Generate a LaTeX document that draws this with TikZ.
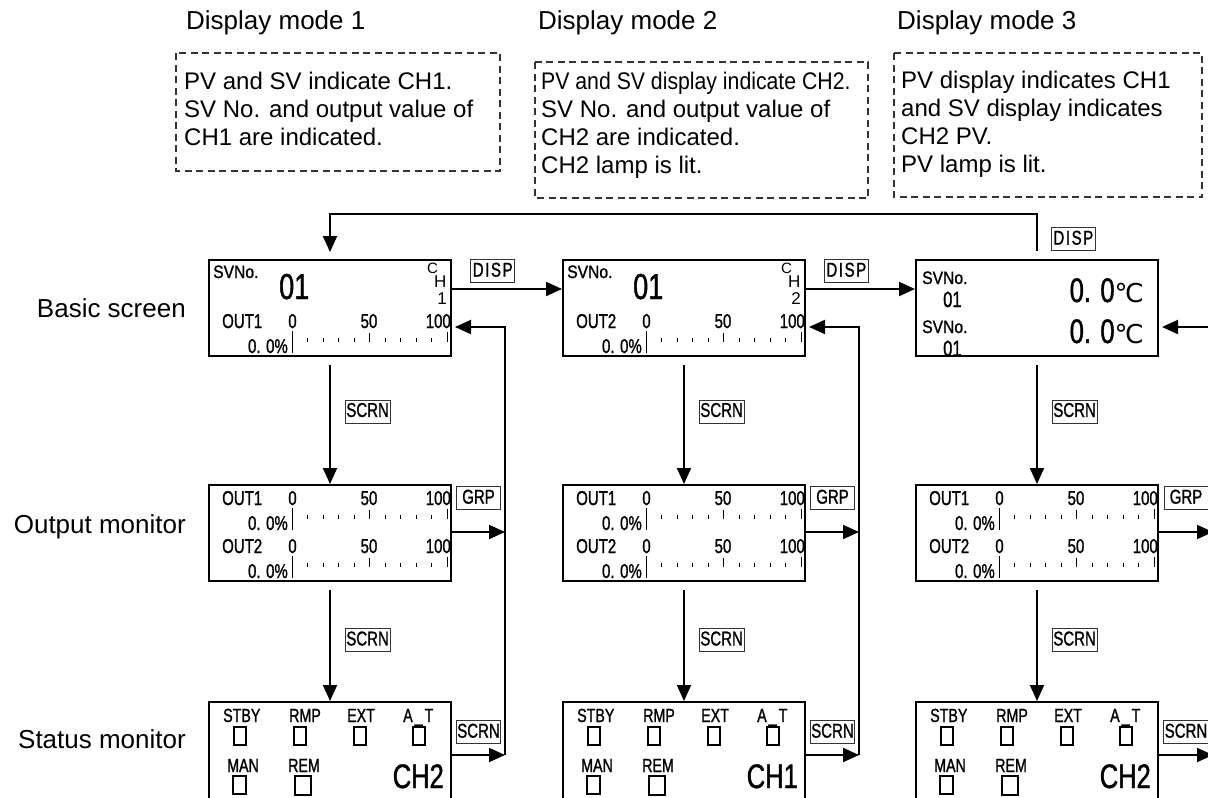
\documentclass[tikz,border=0pt]{standalone}
\usepackage{fontspec}
\usepackage{graphicx}
\setmainfont{Liberation Sans}
\newfontfamily\lcdfont[FakeStretch=0.75,FakeBold=1.2]{Liberation Sans}
\newfontfamily\lcdwide[FakeStretch=0.87,FakeBold=1.2]{Liberation Sans}
\newfontfamily\symfont{DejaVu Sans}
\usetikzlibrary{arrows.meta,positioning}

\begin{document}
\begin{tikzpicture}[x=1pt, y=-1pt,
  screen/.style={draw, line width=2pt, minimum width=242pt,
                 minimum height=96pt, inner sep=0pt},
  flow/.style={line width=2pt, -{Triangle[length=16pt,width=14pt]}},
  keylbl/.style={draw=black!80, line width=0.7pt, inner xsep=1pt,
                 inner ysep=3pt, minimum width=44pt, text height=14pt,
                 text depth=3pt, font=\lcdfont\fontsize{20}{20}\selectfont},
  lcd/.style={inner sep=0pt, font=\lcdfont\fontsize{20}{20}\selectfont},
  note/.style={draw=black!80, line width=1.3pt, dash pattern=on 7pt off 4.5pt},
  tick/.style={line width=1pt},
  lamp/.style={line width=1.2pt}]

\useasboundingbox (0,0) rectangle (1208,798);
\clip (0,0) rectangle (1208,798);

% ---- (1) display mode titles + dashed notes ---------------------
\node[anchor=base west, inner sep=0pt, font=\fontsize{26}{26}\selectfont]
      (title1) at (186,29) {Display mode 1};
\node[anchor=base west, inner sep=0pt, font=\fontsize{26}{26}\selectfont]
      (title2) at (538,29) {Display mode 2};
\node[anchor=base west, inner sep=0pt, font=\fontsize{26}{26}\selectfont]
      (title3) at (897,29) {Display mode 3};

\draw[note] (176,53) rectangle (500,171);
\draw[note] (535,62) rectangle (868,198);
\draw[note] (894,53) rectangle (1202,197);

\node[anchor=north west, align=left, inner sep=0pt,
      font=\fontsize{24}{28}\selectfont] (text1) at (184,72)
      {PV and SV indicate CH1.\\SV No. and output value of\\CH1 are indicated.};
\node[anchor=north west, align=left, inner sep=0pt,
      font=\fontsize{24}{28}\selectfont] (text2) at (541,72)
      {\scalebox{0.885}[1]{PV and SV display indicate CH2.}\\SV No. and output value of\\CH2 are indicated.\\CH2 lamp is lit.};
\node[anchor=north west, align=left, inner sep=0pt,
      font=\fontsize{24}{28}\selectfont] (text3) at (901,71)
      {PV display indicates CH1\\and SV display indicates\\CH2 PV.\\PV lamp is lit.};

% ---- (2) row labels ---------------------------------------------
\node[anchor=base east, inner sep=0pt, font=\fontsize{26}{26}\selectfont]
      (rowbas) at (186,317) {Basic screen};
\node[anchor=base east, inner sep=0pt, font=\fontsize{26}{26}\selectfont]
      (rowout) at (186,533) {Output monitor};
\node[anchor=base east, inner sep=0pt, font=\fontsize{26}{26}\selectfont]
      (rowsta) at (186,748) {Status monitor};

% ---- (3) screen frames ------------------------------------------
\foreach \cx/\col in {330/1,684/2,1037/3}{
  \node[screen] (bas\col) at (\cx,308) {};
  \node[screen] (out\col) at (\cx,533) {};
  \node[screen, minimum height=110pt, anchor=north] (sta\col) at (\cx,701) {};
}

% ---- (4) basic screens of mode 1 and 2 --------------------------
\foreach \cx/\col in {0/1,354/2}{
  \begin{scope}[shift={(\cx,0)}]
    \node[lcd, anchor=base west, font=\lcdwide\fontsize{18}{18}\selectfont]
          (svno\col) at (213,278) {SVNo.};
    \node[lcd, anchor=base west, font=\lcdfont\fontsize{36}{36}\selectfont]
          (svn\col) at (279,299) {01};
    \node[anchor=base west, inner sep=0pt, font=\fontsize{15}{15}\selectfont]
          (chc\col) at (427,273) {C};
    \node[anchor=base west, inner sep=0pt, font=\fontsize{17}{17}\selectfont]
          (chh\col) at (434,287) {H};
    \node[anchor=base east, inner sep=0pt, font=\fontsize{17}{17}\selectfont]
          (chn\col) at (447,304) {\col};
  \end{scope}
}

% ---- (5) bar graph rows (0 ... 100) -----------------------------
\foreach \cx/\B/\lab/\row in {0/328/OUT1/a1, 354/328/OUT2/a2,
    0/505/OUT1/b1, 0/553/OUT2/c1, 354/505/OUT1/b2, 354/553/OUT2/c2,
    707/505/OUT1/b3, 707/553/OUT2/c3}{
  \begin{scope}[shift={(\cx,0)}]
    \node[lcd, anchor=base west] (lab\row) at (222,\B) {\lab};
    \node[lcd, anchor=base] (zero\row) at (292.5,\B) {0};
    \node[lcd, anchor=base] (half\row) at (369,\B) {50};
    \node[lcd, anchor=base east] (full\row) at (451,\B) {100};
    \node[lcd, anchor=base east] (val\row) at (288,{\B+25}) {0. 0\%};
    \draw[tick] (292,{\B+3}) -- (292,{\B+25});
    \foreach \i in {1,...,9}{
      \draw[tick] ({292+15.5*\i},{\B+10}) -- ({292+15.5*\i},{\B+14});
    }
    \draw[tick] (369.5,{\B+5}) -- (369.5,{\B+12});
    \draw[tick] (447,{\B+4}) -- (447,{\B+14});
  \end{scope}
}

% ---- (6) basic screen of mode 3 ---------------------------------
\node[lcd, anchor=base west, font=\lcdwide\fontsize{18}{18}\selectfont]
      (svno3a) at (922,284) {SVNo.};
\node[lcd, anchor=base west, font=\lcdfont\fontsize{22}{22}\selectfont]
      (svn3a) at (943,307) {01};
\node[lcd, anchor=base west, font=\lcdwide\fontsize{18}{18}\selectfont]
      (svno3b) at (922,333) {SVNo.};
\node[lcd, anchor=base west, font=\lcdfont\fontsize{22}{22}\selectfont]
      (svn3b) at (943,356) {01};
\node[lcd, anchor=base east, font=\lcdfont\fontsize{34}{34}\selectfont]
      (pv3) at (1144,302) {0. 0{\symfont\fontsize{26}{26}\selectfont ℃}};
\node[lcd, anchor=base east, font=\lcdfont\fontsize{34}{34}\selectfont]
      (sv3) at (1144,343) {0. 0{\symfont\fontsize{26}{26}\selectfont ℃}};

% ---- (7) status monitors (lamps) --------------------------------
\foreach \cx/\col/\ch in {0/1/CH2,354/2/CH1,707/3/CH2}{
  \begin{scope}[shift={(\cx,0)}]
    \foreach \x/\lab/\n in {223/STBY/a,289/RMP/b,347/EXT/c,
                            403/{A\kern2pt\_\kern2pt T}/d}{
      \node[lcd, anchor=base west, font=\lcdfont\fontsize{19}{19}\selectfont]
            (st\col\n) at (\x,722) {\lab};
    }
    \foreach \x in {234,294,354,413}{
      \draw[lamp] (\x,727) rectangle ++(12,18);
    }
    \node[lcd, anchor=base west, font=\lcdfont\fontsize{19}{19}\selectfont]
          (man\col) at (227,772) {MAN};
    \node[lcd, anchor=base west, font=\lcdfont\fontsize{19}{19}\selectfont]
          (rem\col) at (288,772) {REM};
    \draw[lamp] (233,776) rectangle ++(13,18);
    \draw[lamp] (295,776) rectangle ++(16,19);
    \node[lcd, anchor=base east, font=\lcdfont\fontsize{34}{34}\selectfont]
          (chs\col) at (444,788) {\ch};
  \end{scope}
}

% ---- (8) SCRN arrows down each column ---------------------------
\foreach \col in {1,2,3}{
  \draw[flow] ([yshift=-8pt]bas\col.south) -- (out\col.north)
        node[keylbl, pos=.39, right=15pt] (scrnb\col) {SCRN};
  \draw[flow] ([yshift=-8pt]out\col.south) -- (sta\col.north)
        node[keylbl, pos=.45, right=15pt] (scrno\col) {SCRN};
}

% ---- (9) DISP arrows between the basic screens ------------------
\draw[flow] ([yshift=19pt]bas1.east) -- ([yshift=19pt]bas2.west)
      node[keylbl, pos=.37, above=6pt] (disp1)
      {\addfontfeature{LetterSpace=8}DISP};
\draw[flow] ([yshift=19pt]bas2.east) -- ([yshift=19pt]bas3.west)
      node[keylbl, pos=.37, above=6pt] (disp2)
      {\addfontfeature{LetterSpace=8}DISP};

\coordinate (loop) at (683,214);
\draw[flow] ([yshift=8pt]bas3.north) -- (bas3.north |- loop)
      -- (bas1.north |- loop) -- ([yshift=7pt]bas1.north);
\node[keylbl, anchor=south west] (disp3)
      at ([xshift=14pt,yshift=8pt]bas3.north)
      {\addfontfeature{LetterSpace=8}DISP};

% ---- (10) GRP / SCRN return rails back to the basic screen ------
\foreach \col/\rx in {1/505,2/859,3/1213}{
  \coordinate (rt\col) at (\rx,327);
  \coordinate (rg\col) at (\rx,532);
  \coordinate (rs\col) at (\rx,755);
  \draw[flow, shorten >=3pt] (rs\col) -- (rt\col) -- (bas\col.east |- rt\col);
  \draw[flow] (out\col.east |- rg\col) -- (rg\col)
        node[keylbl, midway, above=22pt] (grp\col) {GRP};
  \draw[flow] (sta\col.east |- rs\col) -- (rs\col)
        node[keylbl, midway, above=11pt] (scrns\col) {SCRN};
}

\end{tikzpicture}
\end{document}
